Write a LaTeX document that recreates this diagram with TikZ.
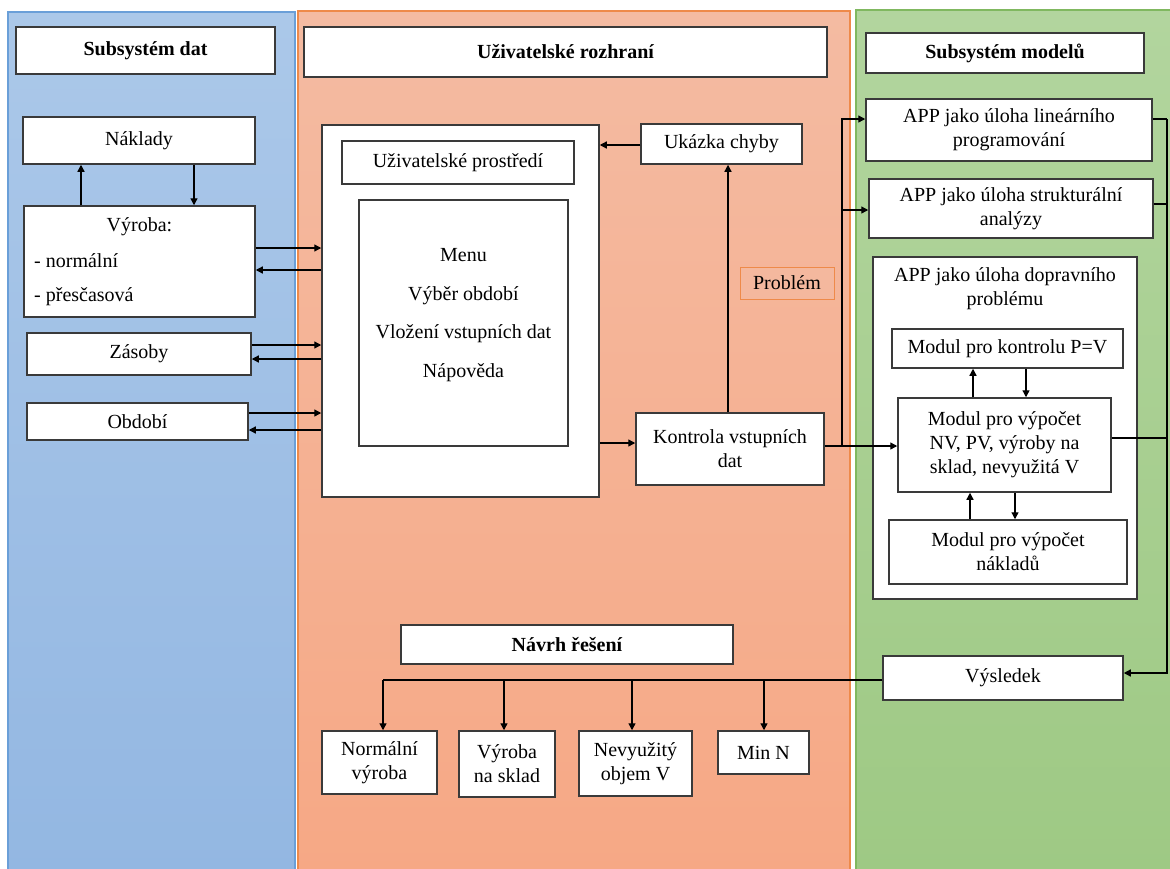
\documentclass[tikz,border=0pt]{standalone}
\usepackage{fontspec}
\setmainfont{Liberation Serif}
\newfontfamily\diagramfont{Liberation Serif}
\usepackage{tikz}
\usetikzlibrary{arrows.meta,positioning}
\definecolor{boxgray}{RGB}{58,58,58}
\definecolor{blueTop}{RGB}{171,200,233}
\definecolor{blueBot}{RGB}{147,183,226}
\definecolor{blueLine}{RGB}{106,159,216}
\definecolor{orangeTop}{RGB}{244,187,162}
\definecolor{orangeBot}{RGB}{246,168,133}
\definecolor{orangeLine}{RGB}{238,138,74}
\definecolor{greenTop}{RGB}{178,213,158}
\definecolor{greenBot}{RGB}{158,201,132}
\definecolor{greenLine}{RGB}{128,184,96}

\begin{document}
\begin{tikzpicture}[
    x=1pt, y=-1pt,
    every node/.style={font=\diagramfont\fontsize{20pt}{24pt}\selectfont},
    box/.style={rectangle, draw=boxgray, line width=1.5pt, fill=white,
                align=center, inner sep=2pt},
    headbox/.style={box, font=\diagramfont\fontsize{20pt}{24pt}\selectfont\bfseries},
    txt/.style={inner sep=0pt, align=center},
    arrow/.style={-{Triangle[length=7pt,width=7pt]}, line width=1.3pt, black},
    link/.style={line width=1.3pt, black}
]
    \useasboundingbox (0,0) rectangle (1170,868);

    % Background panels
    \shade[top color=blueTop, bottom color=blueBot] (8,12) rectangle (295,875);
    \draw[blueLine, line width=1.5pt] (8,875) -- (8,12) -- (295,12) -- (295,875);
    \shade[top color=orangeTop, bottom color=orangeBot] (298,11) rectangle (850,875);
    \draw[orangeLine, line width=1.5pt] (298,875) -- (298,11) -- (850,11) -- (850,875);
    \shade[top color=greenTop, bottom color=greenBot] (856,10) rectangle (1175,875);
    \draw[greenLine, line width=1.5pt] (856,875) -- (856,10) -- (1175,10);

    % Headers
    \node[headbox, minimum width=259pt, minimum height=47pt] (dat) at (145.5,50.5) {Subsystém dat};
    \node[headbox, minimum width=523pt, minimum height=50pt] (rozhrani) at (565.5,52) {Uživatelské rozhraní};
    \node[headbox, minimum width=278pt, minimum height=40pt] (modely) at (1005,53) {Subsystém modelů};

    % Data subsystem
    \node[box, minimum width=232pt, minimum height=47pt] (naklady) at (139,140.5) {Náklady};
    \node[box, minimum width=231pt, minimum height=111pt] (vyroba) at (139.5,261.5) {};
    \node[txt] (vyrobaT) at (139.5,227) {Výroba:};
    \node[txt, anchor=west] (normalni) at (34,261) {- normální};
    \node[txt, anchor=west] (prescas) at (34,297) {- přesčasová};
    \node[box, minimum width=224pt, minimum height=42pt] (zasoby) at (139,354) {Zásoby};
    \node[box, minimum width=221pt, minimum height=37pt] (obdobi) at (137.5,421.5) {Období};

    % User interface
    \node[box, minimum width=277pt, minimum height=372pt] (ui) at (460.5,311) {};
    \node[box, minimum width=232pt, minimum height=43pt] (prostredi) at (458,162.5) {Uživatelské prostředí};
    \node[box, minimum width=209pt, minimum height=246pt] (menu) at (463.5,323) {};
    \node[txt] (menuT) at (463.5,315) {Menu\\[14.5pt]Výběr období\\[14.5pt]Vložení vstupních dat\\[14.5pt]Nápověda};
    \node[box, minimum width=161pt, minimum height=40pt] (chyba) at (721.5,144) {Ukázka chyby};
    \node[box, draw=orangeLine, line width=1pt, fill=orangeTop!85!orangeBot,
          minimum width=94pt, minimum height=32pt] (problem) at (787,283) {Problém};
    \node[box, minimum width=188pt, minimum height=72pt] (kontrola) at (730,449) {Kontrola vstupních\\dat};

    % Solution proposal
    \node[headbox, minimum width=332pt, minimum height=39pt] (navrh) at (567,644.5) {Návrh řešení};
    \node[box, minimum width=115pt, minimum height=63pt] (normal) at (379.5,762.5) {Normální\\výroba};
    \node[box, minimum width=96pt, minimum height=66pt] (sklad) at (507,764) {Výroba\\na sklad};
    \node[box, minimum width=113pt, minimum height=65pt] (nevyuz) at (635.5,763.5) {Nevyužitý\\objem V};
    \node[box, minimum width=91pt, minimum height=43pt] (minn) at (763.5,752.5) {Min N};

    % Model subsystem
    \node[box, minimum width=286pt, minimum height=62pt] (applin) at (1009,130) {APP jako úloha lineárního\\programování};
    \node[box, minimum width=284pt, minimum height=59pt] (appstr) at (1011,208.5) {APP jako úloha strukturální\\analýzy};
    \node[box, minimum width=264pt, minimum height=342pt] (appdop) at (1005,428) {};
    \node[txt] (appdopT) at (1005,289) {APP jako úloha dopravního\\problému};
    \node[box, minimum width=231pt, minimum height=39pt] (kontrolaPV) at (1007.5,348.5) {Modul pro kontrolu P=V};
    \node[box, minimum width=213pt, minimum height=94pt] (vypocet) at (1004.5,445) {Modul pro výpočet\\NV, PV, výroby na\\sklad, nevyužitá V};
    \node[box, minimum width=238pt, minimum height=64pt] (naklmod) at (1008,552) {Modul pro výpočet\\nákladů};
    \node[box, minimum width=240pt, minimum height=44pt] (vysledek) at (1003,678) {Výsledek};

    % Connections - data subsystem
    \draw[arrow] (vyroba.north -| 81,0) -- (naklady.south -| 81,0);
    \draw[arrow] (naklady.south -| 194,0) -- (vyroba.north -| 194,0);
    \draw[arrow] (vyroba.east |- 0,248) -- (ui.west |- 0,248);
    \draw[arrow] (ui.west |- 0,270) -- (vyroba.east |- 0,270);
    \draw[arrow] (zasoby.east |- 0,345) -- (ui.west |- 0,345);
    \draw[arrow] (ui.west |- 0,359) -- (zasoby.east |- 0,359);
    \draw[arrow] (obdobi.east |- 0,413) -- (ui.west |- 0,413);
    \draw[arrow] (ui.west |- 0,430) -- (obdobi.east |- 0,430);

    % Connections - user interface
    \draw[arrow] (ui.east |- 0,443) -- (kontrola.west |- 0,443);
    \draw[arrow] (kontrola.north -| 728,0) -- (chyba.south -| 728,0);
    \draw[arrow] (chyba.west |- 0,145) -- (ui.east |- 0,145);

    % Connections - to models
    \coordinate (bus) at (842,446);
    \draw[arrow] (kontrola.east |- 0,446) -- (vypocet.west |- 0,446);
    \draw[arrow] (bus) |- (applin.west |- 0,119);
    \draw[arrow] (bus) |- (appstr.west |- 0,210);

    % Connections - to result
    \coordinate (rbus) at (1167,119);
    \draw[link] (applin.east |- 0,119) -- (rbus);
    \draw[arrow] (rbus) |- (vysledek.east |- 0,673);
    \draw[link] (appstr.east |- 0,204) -- (rbus |- 0,204);
    \draw[link] (vypocet.east |- 0,438) -- (rbus |- 0,438);

    % Connections - transport problem modules
    \draw[arrow] (vypocet.north -| 973,0) -- (kontrolaPV.south -| 973,0);
    \draw[arrow] (kontrolaPV.south -| 1026,0) -- (vypocet.north -| 1026,0);
    \draw[arrow] (naklmod.north -| 970,0) -- (vypocet.south -| 970,0);
    \draw[arrow] (vypocet.south -| 1015,0) -- (naklmod.north -| 1015,0);

    % Connections - solution
    \coordinate (split) at (383,680);
    \draw[link] (vysledek.west |- 0,680) -- (split);
    \draw[arrow] (split) -- (normal.north -| split);
    \draw[arrow] (split -| 504,0) -- (sklad.north -| 504,0);
    \draw[arrow] (split -| 632,0) -- (nevyuz.north -| 632,0);
    \draw[arrow] (split -| 764,0) -- (minn.north -| 764,0);

\end{tikzpicture}
\end{document}
